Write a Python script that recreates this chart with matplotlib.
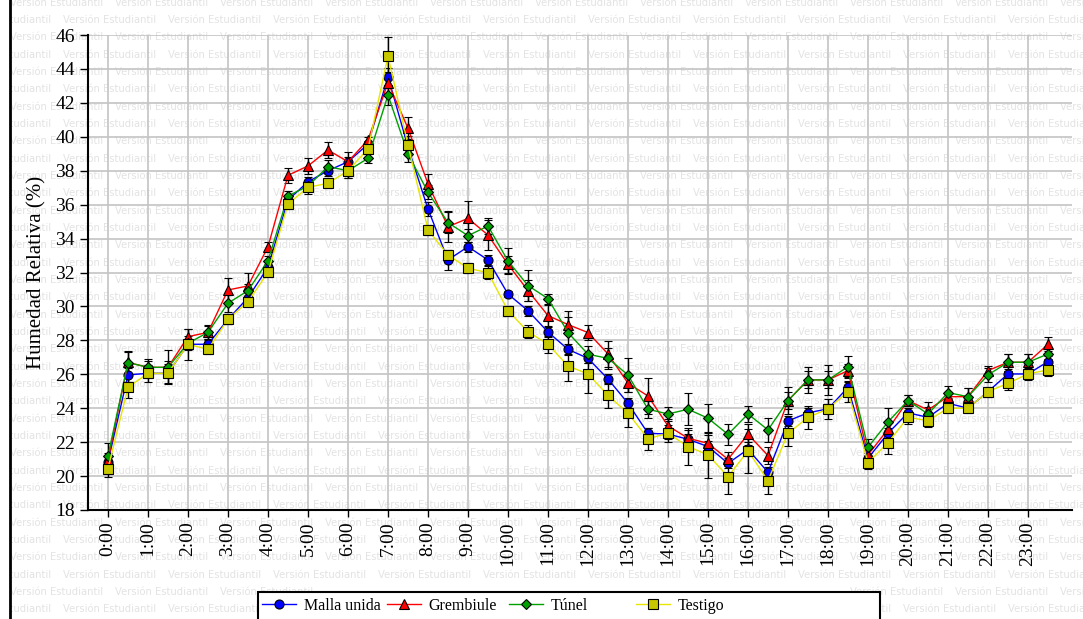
import numpy as np
import matplotlib
matplotlib.use("Agg")
import matplotlib.pyplot as plt
from matplotlib.patches import Rectangle
from matplotlib.lines import Line2D

plt.rcParams['font.family'] = ['Liberation Serif', 'DejaVu Serif']

# horas de medición (cada media hora)
hora = np.arange(0, 24, 0.5)
tick_horas = list(range(24))
tick_labels = ['%d:00' % h for h in tick_horas]

malla = [20.85, 25.96, 26.06, 26.06, 27.77, 27.77, 29.24, 30.52, 32.31, 36.27,
         37.35, 38.0, 38.53, 39.56, 43.54, 39.4, 35.74, 32.74, 33.52, 32.74,
         30.73, 29.75, 28.49, 27.47, 26.94, 25.72, 24.29, 22.52, 22.48, 22.17,
         21.74, 20.75, 21.58, 20.22, 23.25, 23.73, 23.96, 25.23, 21.05, 22.52,
         23.73, 23.46, 24.29, 24.0, 24.98, 26.02, 26.02, 26.75]
grembiule = [20.95, 26.7, 26.41, 26.41, 28.22, 28.47, 30.97, 31.21, 33.52, 37.73,
             38.28, 39.22, 38.53, 39.81, 43.19, 40.5, 37.22, 34.7, 35.19, 34.21,
             32.48, 30.93, 29.46, 28.93, 28.46, 27.2, 25.47, 24.72, 22.96, 22.23,
             21.93, 20.99, 22.46, 21.21, 24.45, 25.67, 25.67, 26.22, 21.25, 22.76,
             24.45, 23.9, 24.68, 24.68, 26.22, 26.71, 26.71, 27.77]
tunel = [21.19, 26.69, 26.41, 26.41, 27.83, 28.47, 30.19, 30.93, 32.7, 36.51,
         37.1, 38.24, 38.0, 38.73, 42.46, 38.99, 36.73, 34.94, 34.17, 34.74,
         32.68, 31.23, 30.46, 28.46, 27.18, 26.94, 25.96, 23.94, 23.66, 23.94,
         23.41, 22.46, 23.66, 22.72, 24.45, 25.67, 25.67, 26.45, 21.7, 23.19,
         24.45, 23.66, 24.92, 24.68, 25.96, 26.71, 26.71, 27.2]
testigo = [20.44, 25.23, 26.06, 26.06, 27.77, 27.47, 29.24, 30.28, 32.01, 36.04,
           37.02, 37.26, 38.0, 39.28, 44.76, 39.52, 34.51, 33.03, 32.25, 31.99,
           29.75, 28.51, 27.77, 26.49, 26.02, 24.76, 23.7, 22.21, 22.52, 21.74,
           21.25, 19.97, 21.48, 19.73, 22.52, 23.46, 23.96, 24.98, 20.79, 21.97,
           23.46, 23.27, 24.0, 24.0, 24.98, 25.47, 26.02, 26.26]

err_malla = [0.3, 0.4, 0.3, 0.3, 0.3, 0.3, 0.3, 0.3, 0.3, 0.3,
             0.3, 0.3, 0.3, 0.2, 0.5, 0.4, 0.4, 0.6, 0.3, 0.3,
             0.2, 0.3, 0.3, 0.3, 0.3, 0.3, 0.3, 0.3, 0.3, 0.3,
             0.3, 0.3, 0.4, 0.3, 0.3, 0.3, 0.3, 0.3, 0.3, 0.3,
             0.3, 0.3, 0.3, 0.2, 0.2, 0.3, 0.3, 0.3]
err_grembiule = [0.4, 0.6, 0.4, 0.4, 0.45, 0.45, 0.7, 0.75, 0.25, 0.45,
                 0.45, 0.45, 0.55, 0.2, 0.6, 0.65, 0.6, 0.9, 1.05, 0.9,
                 0.5, 0.6, 0.6, 0.45, 0.45, 0.75, 0.5, 1.05, 0.4, 0.5,
                 0.5, 0.4, 0.6, 0.5, 0.5, 0.5, 0.5, 0.4, 0.4, 0.5,
                 0.3, 0.45, 0.3, 0.5, 0.25, 0.5, 0.5, 0.4]
err_tunel = [0.75, 0.7, 0.5, 1.0, 0.4, 0.4, 0.5, 0.4, 0.3, 0.3,
             0.3, 0.4, 0.4, 0.3, 0.6, 0.5, 0.4, 0.6, 0.4, 0.45,
             0.75, 0.9, 0.3, 1.3, 0.5, 0.6, 1.0, 0.5, 0.4, 0.95,
             0.85, 0.6, 0.5, 0.7, 0.8, 0.75, 0.9, 0.65, 0.5, 0.85,
             0.3, 0.4, 0.4, 0.5, 0.4, 0.5, 0.5, 0.3]
err_testigo = [0.5, 0.65, 0.5, 0.55, 0.9, 0.3, 0.3, 0.3, 0.3, 0.3,
               0.4, 0.3, 0.4, 0.3, 1.1, 0.5, 0.3, 0.3, 0.3, 0.4,
               0.3, 0.4, 0.5, 0.9, 1.15, 0.75, 0.8, 0.65, 0.5, 1.1,
               1.35, 1.0, 1.3, 0.8, 0.75, 0.7, 0.6, 0.6, 0.4, 0.65,
               0.4, 0.35, 0.3, 0.3, 0.3, 0.4, 0.35, 0.35]

W, H = 1083, 619
fig = plt.figure(figsize=(W / 100, H / 100), dpi=100)

# marca de agua "Versión Estudiantil" (no se dibuja bajo la caja de la leyenda)
y = 2.7
fila = 0
while y < H + 10:
    x0 = 10 if fila % 2 == 0 else -42
    x = x0
    while x < W:
        bajo_leyenda = y > 585 and x > 250 and x + 95 < 885
        if not bajo_leyenda:
            fig.text(x / W, 1 - y / H, 'Versión Estudiantil', fontsize=7.2,
                     family='DejaVu Sans', color='#e3e3e3', va='center', ha='left',
                     zorder=-2)
        x += 105
    y += 17.33
    fila += 1
fig.patches.append(Rectangle((0, 0), 10 / W, 1, transform=fig.transFigure,
                             facecolor='white', edgecolor='none', zorder=-1))
fig.lines.append(Line2D([10 / W, 10 / W], [0, 1], transform=fig.transFigure,
                        color='black', lw=2, zorder=-0.5))

ax = fig.add_axes([88 / W, 1 - 510 / H, (1072 - 88) / W, (510 - 35) / H])
ax.patch.set_alpha(0)

series = [
    ('Malla unida', malla, err_malla, '#0000ff', 'o', '#0000ff', 6.5),
    ('Grembiule', grembiule, err_grembiule, '#ff0000', '^', '#ff0000', 7),
    ('Túnel', tunel, err_tunel, '#00a000', 'D', '#00a000', 5),
    ('Testigo', testigo, err_testigo, '#e6e600', 's', '#c8c800', 6.5),
]

handles = []
for nombre, vals, err, col, mk, fc, ms in series:
    cont = ax.errorbar(hora, vals, yerr=err, color=col, lw=1, marker=mk, ms=ms,
                       mfc=fc, mec='black', mew=0.8, ecolor='black', elinewidth=1,
                       capsize=3, capthick=1, label=nombre)
    handles.append(cont.lines[0])

ax.set_xlim(-0.5, 24.1)
ax.set_ylim(18, 46)
ax.set_yticks(range(18, 47, 2))
ax.set_xticks(tick_horas)
ax.set_xticklabels(tick_labels, rotation=90, fontsize=14)
ax.tick_params(axis='y', labelsize=14, length=6, width=1, direction='out')
ax.tick_params(axis='x', length=5, width=1, direction='out', pad=3)
ax.grid(True, color='#c4c4c4', lw=1.2)
ax.set_axisbelow(True)
for s in ['top', 'right']:
    ax.spines[s].set_visible(False)
for s in ['left', 'bottom']:
    ax.spines[s].set_linewidth(1.5)
ax.set_ylabel('Humedad Relativa (%)', fontsize=15, labelpad=6)

# leyenda con columnas de ancho fijo
fig.patches.append(Rectangle((258 / W, 1 - 630 / H), (880 - 258) / W, 38 / H,
                             transform=fig.transFigure, facecolor='white',
                             edgecolor='black', lw=1.5, zorder=4))
for h, (nombre, *_), xp in zip(handles, series, [262, 387, 509, 636]):
    fig.legend([h], [nombre], loc='center left', bbox_to_anchor=(xp / W, 1 - 606 / H),
               frameon=False, fontsize=11.5, borderpad=0, borderaxespad=0,
               handlelength=2.1, handletextpad=0.5)

fig.savefig('out.png', dpi=100)
